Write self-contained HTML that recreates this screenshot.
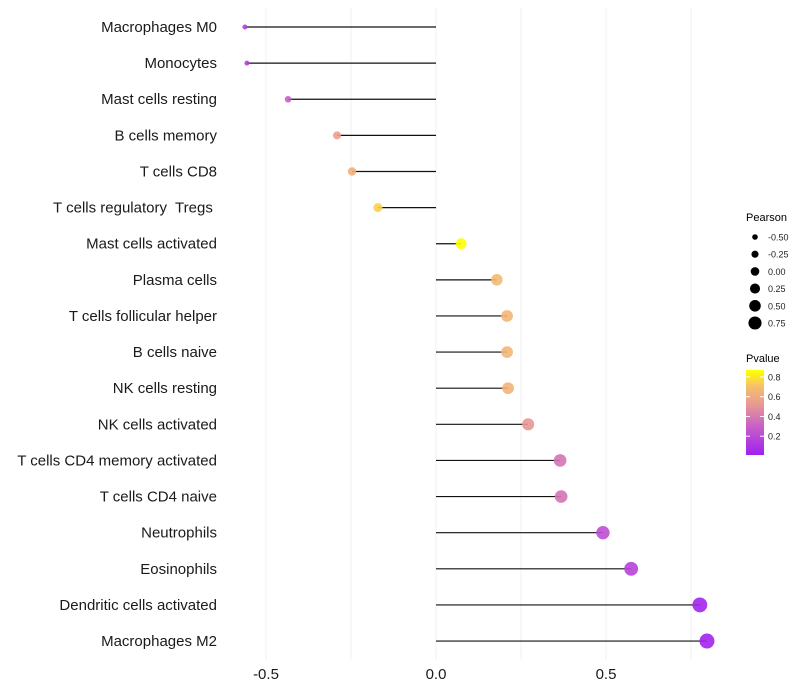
<!DOCTYPE html>
<html><head><meta charset="utf-8"><style>
body{margin:0;background:#fff;font-family:"Liberation Sans",sans-serif}
svg{display:block}
text{white-space:pre}
</style></head><body>
<svg id="chart" width="800" height="700" xmlns="http://www.w3.org/2000/svg"></svg>
<script>
const categories=["Macrophages M0","Monocytes","Mast cells resting","B cells memory","T cells CD8","T cells regulatory  Tregs ","Mast cells activated","Plasma cells","T cells follicular helper","B cells naive","NK cells resting","NK cells activated","T cells CD4 memory activated","T cells CD4 naive","Neutrophils","Eosinophils","Dendritic cells activated","Macrophages M2"];
const pearson=[-0.562,-0.556,-0.435,-0.291,-0.247,-0.171,0.074,0.179,0.209,0.209,0.212,0.271,0.365,0.368,0.491,0.574,0.776,0.797];
const pvalues=[0.15,0.15,0.3,0.55,0.63,0.75,0.86,0.68,0.66,0.66,0.65,0.52,0.38,0.38,0.22,0.17,0.03,0.02];
const xTicks=[-0.5,0,0.5];
const xGrid=[-0.5,-0.25,0,0.25,0.5,0.75];
const sizeLegend=[-0.5,-0.25,0,0.25,0.5,0.75];
const pLegend=[0.2,0.4,0.6,0.8];

const NS="http://www.w3.org/2000/svg";
const svg=document.getElementById('chart');
function mk(t,a,p){const e=document.createElementNS(NS,t);for(const k in a)e.setAttribute(k,a[k]);(p||svg).appendChild(e);return e;}
const x=v=>436+v*340;
const y=i=>27+i*36.12;
const r=v=>Math.sqrt(6.25+Math.max(0,v+0.56)*36.8);
const stops=[[0,[160,32,240]],[0.3,[200,96,200]],[0.55,[236,160,140]],[0.7,[245,190,110]],[0.86,[255,255,0]]];
function col(p){
  if(p<=stops[0][0])return 'rgb('+stops[0][1]+')';
  for(let k=1;k<stops.length;k++){if(p<=stops[k][0]){const a=stops[k-1],b=stops[k],t=(p-a[0])/(b[0]-a[0]);return 'rgb('+a[1].map((c,j)=>Math.round(c+(b[1][j]-c)*t)).join(',')+')';}}
  return 'rgb('+stops[stops.length-1][1]+')';
}
xGrid.forEach(g=>{const l=mk('line',{x1:x(g),x2:x(g),y1:8,y2:660,stroke:'#f0f0f0','stroke-width':1});

});
categories.forEach((c,i)=>{
  const t=mk('text',{x:217,y:y(i)+5,'text-anchor':'end','font-size':15,fill:'#1a1a1a'});t.textContent=c;
  
  
  const s=mk('line',{x1:x(0),x2:x(pearson[i]),y1:y(i),y2:y(i),stroke:'#111','stroke-width':1.2});
  
  
  const d=mk('circle',{cx:x(pearson[i]),cy:y(i),r:r(pearson[i]),fill:col(pvalues[i]),'fill-opacity':0.9});
  
  
});
xTicks.forEach(v=>{const t=mk('text',{x:x(v),y:679,'text-anchor':'middle','font-size':15,fill:'#1a1a1a'});t.textContent=v===0?'0.0':v.toFixed(1);

});
const lt=mk('text',{x:746,y:221,'font-size':11,fill:'#000'});lt.textContent='Pearson';


sizeLegend.forEach((v,k)=>{const cy=237+k*17.2;
 const c=mk('circle',{cx:755,cy:cy,r:2.8+k*0.75,fill:'#000'});
 
 
 const t=mk('text',{x:768,y:cy+3.5,'font-size':9,fill:'#222'});t.textContent=v.toFixed(2);
 
 });
const pt=mk('text',{x:746,y:362,'font-size':11,fill:'#000'});pt.textContent='Pvalue';


const defs=mk('defs',{});const lg=mk('linearGradient',{id:'pg',x1:0,y1:1,x2:0,y2:0},defs);
const pb=p=>455-(p-0.01)*(85/0.86);
stops.forEach(s=>mk('stop',{offset:Math.max(0,(s[0]-0.01)/0.86),'stop-color':'rgb('+s[1]+')'},lg));
const bar=mk('rect',{x:746,y:370,width:18,height:85,fill:'url(#pg)'});


pLegend.forEach(p=>{mk('line',{x1:746,x2:750,y1:pb(p),y2:pb(p),stroke:'#fff'});mk('line',{x1:760,x2:764,y1:pb(p),y2:pb(p),stroke:'#fff'});
 const t=mk('text',{x:768,y:pb(p)+3.5,'font-size':9,fill:'#222'});t.textContent=p.toFixed(1);
 
 });
</script>
</body></html>
